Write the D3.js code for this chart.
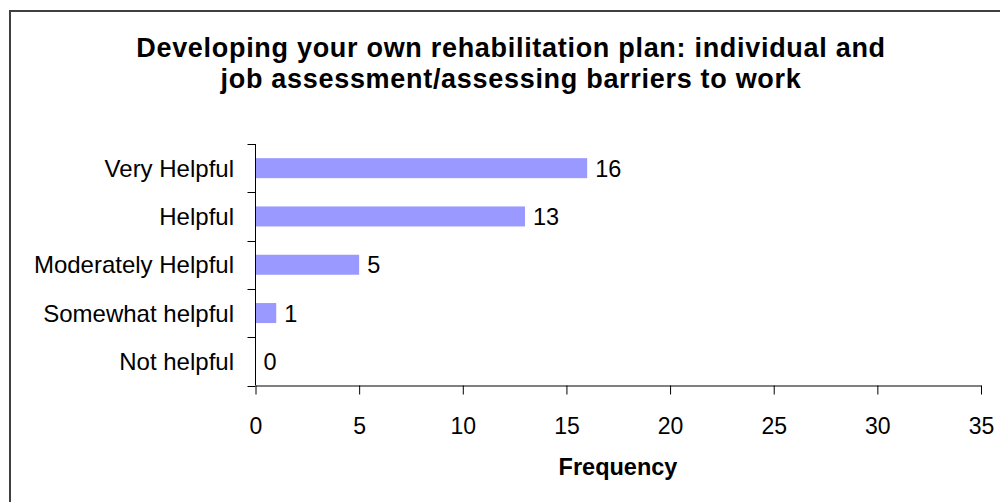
<!DOCTYPE html>
<html>
<head>
<meta charset="utf-8">
<script src="https://cdn.jsdelivr.net/npm/d3@7"></script>
<style>
  html, body { margin: 0; padding: 0; background: #fff; }
  svg { display: block; }
  text { font-family: "Liberation Sans", Arial, sans-serif; fill: #000; }
</style>
</head>
<body>
<svg id="chart" width="1000" height="502"></svg>
<script>
const categories = ["Very Helpful", "Helpful", "Moderately Helpful", "Somewhat helpful", "Not helpful"];
const frequencies = [16, 13, 5, 1, 0];
const xTicks = [0, 5, 10, 15, 20, 25, 30, 35];
const titleLines = ["Developing your own rehabilitation plan: individual and", "job assessment/assessing barriers to work"];
const xAxisTitle = "Frequency";

const svg = d3.select("#chart");

// chart area border (only top/left visible in the frame)
svg.append("rect")
  .attr("x", 10).attr("y", 11)
  .attr("width", 1010).attr("height", 510)
  .attr("fill", "#fff")
  .attr("stroke", "#404040")
  .attr("stroke-width", 2);

const x = d3.scaleLinear().domain([0, 35]).range([255.5, 981]);
const y = d3.scaleBand().domain(categories).range([144, 385.5])
  .paddingInner(0.586).paddingOuter(0.293);
const step = y.step();

// title
svg.append("text")
  .attr("x", 511).attr("y", 57)
  .attr("text-anchor", "middle")
  .style("font-weight", "bold").style("font-size", "27px")
  .style("letter-spacing", "0.7px")
  .selectAll("tspan").data(titleLines).join("tspan")
  .attr("x", 511).attr("dy", (d, i) => i === 0 ? 0 : 31)
  .text(d => d);

// bars
svg.append("g").selectAll("rect").data(categories).join("rect")
  .attr("x", x(0))
  .attr("y", d => y(d))
  .attr("width", (d, i) => x(frequencies[i]) - x(0))
  .attr("height", y.bandwidth())
  .attr("fill", "#9999FF");

// value labels
svg.append("g").selectAll("text").data(categories).join("text")
  .attr("x", (d, i) => x(frequencies[i]) + 8)
  .attr("y", d => y(d) + y.bandwidth() / 2 + 8.5)
  .style("font-size", "23.5px")
  .text((d, i) => frequencies[i]);

// y axis line + boundary ticks
const yAxisG = svg.append("g");
yAxisG.append("line")
  .attr("x1", x(0)).attr("x2", x(0))
  .attr("y1", 144).attr("y2", 385.5)
  .attr("stroke", "#000").attr("stroke-width", 1);
const bounds = d3.range(categories.length + 1).map(i => 144 + i * step);
yAxisG.selectAll("line.tick").data(bounds).join("line")
  .attr("class", "tick")
  .attr("x1", x(0) - 8).attr("x2", x(0))
  .attr("y1", d => Math.round(d) + 0.5).attr("y2", d => Math.round(d) + 0.5)
  .attr("stroke", "#000").attr("stroke-width", 1);
yAxisG.selectAll("text").data(categories).join("text")
  .attr("x", 234)
  .attr("y", d => y(d) + y.bandwidth() / 2 + 8.5)
  .attr("text-anchor", "end")
  .style("font-size", "24px")
  .text(d => d);

// x axis
const xAxis = d3.axisBottom(x).tickValues(xTicks).tickSize(9).tickPadding(23).tickSizeOuter(0);
const xg = svg.append("g").attr("transform", "translate(0,385.5)").call(xAxis);
xg.select(".domain").attr("stroke", "#000").attr("stroke-width", 1);
xg.selectAll(".tick line").attr("stroke", "#000");
xg.selectAll(".tick text")
  .style("font-family", "'Liberation Sans', Arial, sans-serif")
  .style("font-size", "23px")
  .attr("fill", "#000");

// x axis title
svg.append("text")
  .attr("x", 618).attr("y", 475)
  .attr("text-anchor", "middle")
  .style("font-weight", "bold").style("font-size", "23.5px")
  .text(xAxisTitle);
</script>
</body>
</html>
